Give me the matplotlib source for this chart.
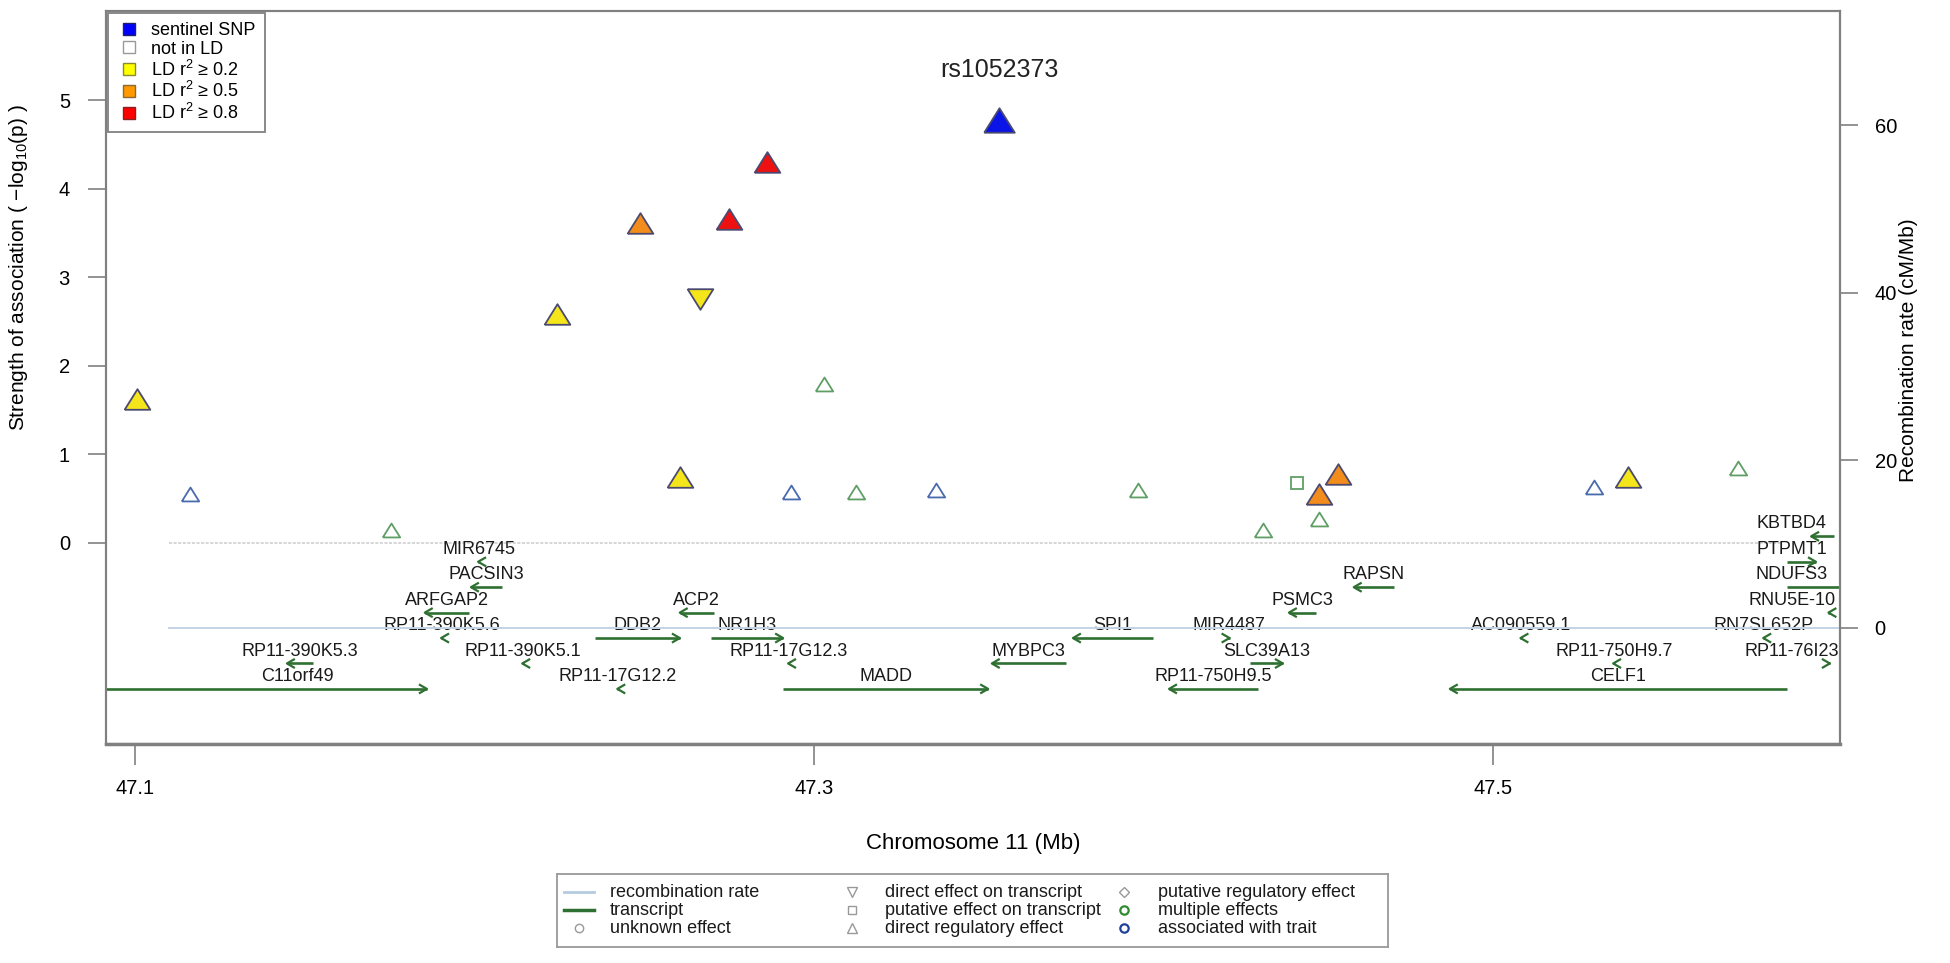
import numpy as np
import matplotlib
matplotlib.use("Agg")
import matplotlib.pyplot as plt
from matplotlib.lines import Line2D

plt.rcParams["font.family"] = ["Liberation Sans", "DejaVu Sans"]
plt.rcParams["mathtext.fontset"] = "custom"
plt.rcParams["mathtext.rm"] = "Liberation Sans"
plt.rcParams["mathtext.it"] = "Liberation Sans:italic"

# --- SNPs (position in Mb, -log10 p) ---
snp_pos = [47.1005, 47.1163, 47.1753, 47.2243, 47.2489, 47.2606, 47.2665, 47.2750,
           47.2862, 47.2932, 47.3031, 47.3123, 47.3360, 47.3545, 47.3954, 47.4324,
           47.4423, 47.4489, 47.4489, 47.4544, 47.5298, 47.5398, 47.5723]
snp_logp = [1.62, 0.55, 0.15, 2.58, 3.61, 0.75, 2.75, 3.66,
            4.30, 0.58, 1.80, 0.57, 0.60, 4.77, 0.60, 0.15,
            0.68, 0.27, 0.55, 0.78, 0.63, 0.75, 0.85]
snp_ld = ["0.2", "none", "none", "0.2", "0.5", "0.2", "0.2", "0.8",
          "0.8", "none", "none", "none", "none", "sentinel", "none", "none",
          "none", "none", "0.5", "0.5", "none", "0.2", "none"]
# effect: reg = direct regulatory effect, tx = direct effect on transcript,
# ptx = putative effect on transcript
snp_effect = ["reg", "reg", "reg", "reg", "reg", "reg", "tx", "reg",
              "reg", "reg", "reg", "reg", "reg", "reg", "reg", "reg",
              "ptx", "reg", "reg", "reg", "reg", "reg", "reg"]
snp_class = ["", "trait", "multiple", "", "", "", "", "",
             "", "trait", "multiple", "multiple", "trait", "", "multiple", "multiple",
             "multiple", "multiple", "", "", "trait", "", "multiple"]
sentinel_name = "rs1052373"

# --- transcripts ---
gene_names = ["C11orf49", "RP11-390K5.3", "ARFGAP2", "RP11-390K5.6", "PACSIN3", "MIR6745",
              "RP11-390K5.1", "DDB2", "RP11-17G12.2", "ACP2", "NR1H3", "RP11-17G12.3",
              "MADD", "MYBPC3", "SPI1", "RP11-750H9.5", "MIR4487", "SLC39A13", "PSMC3",
              "RAPSN", "CELF1", "AC090559.1", "RP11-750H9.7", "RN7SL652P", "PTPMT1",
              "KBTBD4", "NDUFS3", "RNU5E-10", "RP11-76I23"]
gene_start = [47.0850, 47.1448, 47.1854, 47.1902, 47.1990, 47.2011,
              47.2141, 47.2355, 47.2421, 47.2605, 47.2697, 47.2924,
              47.2909, 47.3524, 47.3763, 47.4046, 47.4220, 47.4284, 47.4399,
              47.4590, 47.4873, 47.5081, 47.5354, 47.5796, 47.5866,
              47.5937, 47.5866, 47.5988, 47.5988]
gene_end = [47.1860, 47.1524, 47.1984, 47.1906, 47.2081, 47.2014,
            47.2145, 47.2605, 47.2425, 47.2705, 47.2909, 47.2928,
            47.3513, 47.3742, 47.3999, 47.4308, 47.4224, 47.4381, 47.4479,
            47.4708, 47.5866, 47.5085, 47.5358, 47.5800, 47.5951,
            47.6004, 47.6100, 47.5992, 47.5992]
gene_strand = [1, -1, -1, -1, -1, -1,
               -1, 1, -1, -1, 1, -1,
               1, -1, -1, -1, 1, 1, -1,
               -1, -1, -1, -1, -1, 1,
               -1, 1, -1, 1]
gene_row = [6, 5, 3, 4, 2, 1,
            5, 4, 6, 3, 4, 5,
            6, 5, 4, 6, 4, 5, 3,
            2, 6, 4, 5, 4, 1,
            0, 2, 3, 5]

ld_fill = {"sentinel": "#0a14e6", "0.8": "#ee1111", "0.5": "#f28c1c", "0.2": "#f5e61c"}
class_edge = {"trait": "#4a6aae", "multiple": "#5f9f66", "": "#909090"}
filled_edge = "#4a4a70"
gene_col = "#2e7031"

TRI_UP = [(-1, -0.8), (1, -0.8), (0, 0.8), (-1, -0.8)]
TRI_DOWN = [(-1, 0.8), (1, 0.8), (0, -0.8), (-1, 0.8)]

W, H = 1950, 963
fig = plt.figure(figsize=(W / 100, H / 100), dpi=100)
pos = [0.05436, 0.22741, 0.88923, 0.76116]
ax = fig.add_axes(pos)
xmin, xmax = 47.0915, 47.6022
ymin, ymax = -2.269, 6.005
ax.set_xlim(xmin, xmax)
ax.set_ylim(ymin, ymax)
dx = (xmax - xmin) / (pos[2] * W)
dy = (ymax - ymin) / (pos[3] * H)

# zero line
ax.plot([47.11, 47.585], [0, 0], color="#cccccc", lw=1.1, ls=(0, (2, 1)), zorder=1)

# SNP markers
for x, p, ld, eff, cl in zip(snp_pos, snp_logp, snp_ld, snp_effect, snp_class):
    if eff == "tx":
        mk = TRI_DOWN
    elif eff == "ptx":
        mk = "s"
    else:
        mk = TRI_UP
    if ld == "none":
        ms = 8.5 if mk == "s" else 12.5
        ax.plot(x, p, ls="", marker=mk, ms=ms, mfc="white", mec=class_edge[cl], mew=1.3, zorder=3)
    else:
        ms = 22 if ld == "sentinel" else 18.5
        ax.plot(x, p, ls="", marker=mk, ms=ms, mfc=ld_fill[ld], mec=filled_edge, mew=1.3, zorder=4)
    if ld == "sentinel":
        ax.text(x, 5.34, sentinel_name, ha="center", va="center", fontsize=18, color="#222222")

# transcripts
head = 8
row_y0, row_step = 0.075, 0.287
for name, s, e, st, r in zip(gene_names, gene_start, gene_end, gene_strand, gene_row):
    y = row_y0 - row_step * r
    ax.plot([s, e], [y, y], color=gene_col, lw=1.9, solid_capstyle="butt", zorder=2)
    tip = e if st > 0 else s
    bx = tip - st * head * np.cos(np.radians(30)) * dx
    hy = head * np.sin(np.radians(30)) * dy
    ax.plot([bx, tip, bx], [y + hy, y, y - hy], color=gene_col, lw=1.6, zorder=2)
    lx = (max(s, 47.11) + min(e, 47.60)) / 2
    lx = min(lx, 47.588)
    ax.text(lx, y + 0.14, name, ha="center", va="center", fontsize=13,
            color="#1a1a1a", clip_on=True)

# recombination rate axis
ax2 = ax.twinx()
r0, r60 = -0.959, 4.718
k = 60 / (r60 - r0)
ax2.set_ylim((ymin - r0) * k, (ymax - r0) * k)
ax2.plot([47.11, xmax], [0, 0], color="#c3d3e4", lw=1.4, zorder=1)
ax2.set_yticks([0, 20, 40, 60])

spine_col = "#808080"
for a in (ax, ax2):
    for sp in a.spines.values():
        sp.set_color(spine_col)
        sp.set_linewidth(1.5)
ax.spines["bottom"].set_linewidth(2.5)

ax.set_yticks(range(6))
ax.set_xticks([47.1, 47.3, 47.5])
ax.set_xticklabels(["47.1", "47.3", "47.5"])
ax.tick_params(axis="y", length=13, width=1.2, color=spine_col, pad=13, labelsize=14.5)
ax.tick_params(axis="x", length=15, width=1.2, color=spine_col, pad=10, labelsize=14.5)
ax2.tick_params(axis="y", length=13, width=1.2, color=spine_col, pad=12, labelsize=14.5)

ax.set_xlabel("Chromosome 11 (Mb)", fontsize=16)
ax.xaxis.set_label_coords(0.5, -0.121)
ax.set_ylabel("Strength of association ( \u2212log$_{10}$(p) )", fontsize=15)
ax.yaxis.set_label_coords(-0.044, 0.65)
ax2.set_ylabel("Recombination rate (cM/Mb)", fontsize=15)
ax2.yaxis.set_label_coords(1.034, 0.537)

# LD legend
ld_labels = ["sentinel SNP", "not in LD", "LD r$^{2}$ \u2265 0.2", "LD r$^{2}$ \u2265 0.5", "LD r$^{2}$ \u2265 0.8"]
ld_faces = ["#0000ff", "#ffffff", "#ffff00", "#ff9900", "#ff0000"]
ld_edges = ["#20206a", "#999999", "#8a8a30", "#8a6a30", "#8a2020"]
h1 = [Line2D([], [], ls="", marker="s", ms=9, mfc=f, mec=e, mew=1.0) for f, e in zip(ld_faces, ld_edges)]
leg = ax.legend(h1, ld_labels, loc="upper left", bbox_to_anchor=(0, 1), borderaxespad=0.1,
                fancybox=False, edgecolor=spine_col, fontsize=13, labelspacing=0.1,
                handlelength=1.4, handletextpad=0.5, borderpad=0.5, framealpha=1)
leg.get_frame().set_linewidth(1.3)
leg.set_zorder(10)

# key legend at the bottom, laid out like R's equal-width columns (pixel frame)
gray = "#999999"
key_labels = [["recombination rate", "transcript", "unknown effect"],
              ["direct effect on transcript", "putative effect on transcript", "direct regulatory effect"],
              ["putative regulatory effect", "multiple effects", "associated with trait"]]
key_styles = [[dict(kind="line", color="#b5cbe0", lw=2),
               dict(kind="line", color=gene_col, lw=2.5),
               dict(kind="mk", marker="o", ms=6, mec=gray, mew=1.0)],
              [dict(kind="mk", marker="v", ms=7, mec=gray, mew=1.0),
               dict(kind="mk", marker="s", ms=6, mec=gray, mew=1.0),
               dict(kind="mk", marker="^", ms=7, mec=gray, mew=1.0)],
              [dict(kind="mk", marker="D", ms=5, mec=gray, mew=1.0),
               dict(kind="mk", marker="o", ms=6, mec="#2e8b2e", mew=1.6),
               dict(kind="mk", marker="o", ms=6, mec="#20409a", mew=1.6)]]
bx0, by0, bw, bh = 557, 874, 831, 73
lax = fig.add_axes([bx0 / W, 1 - (by0 + bh) / H, bw / W, bh / H])
lax.set_xlim(0, bw)
lax.set_ylim(bh, 0)
lax.set_xticks([])
lax.set_yticks([])
for sp in lax.spines.values():
    sp.set_color(gray)
    sp.set_linewidth(1.3)
col_sym = [22, 295, 567]
col_txt = [53, 328, 601]
row_y = [18, 36, 54]
for c in range(3):
    for r in range(3):
        st = key_styles[c][r]
        if st["kind"] == "line":
            lax.plot([col_sym[c] - 15, col_sym[c] + 15], [row_y[r], row_y[r]],
                     color=st["color"], lw=st["lw"])
        else:
            lax.plot(col_sym[c], row_y[r], ls="", marker=st["marker"], ms=st["ms"],
                     mfc="white", mec=st["mec"], mew=st["mew"])
        lax.text(col_txt[c], row_y[r], key_labels[c][r], ha="left", va="center",
                 fontsize=13, color="#1a1a1a")

fig.savefig("out.png", dpi=100)
